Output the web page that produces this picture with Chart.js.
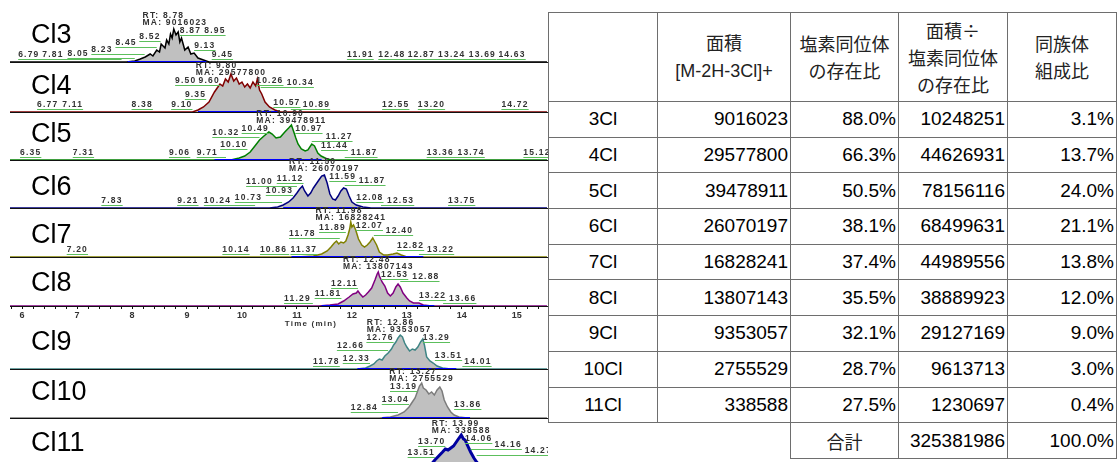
<!DOCTYPE html>
<html>
<head>
<meta charset="utf-8">
<script src="https://cdn.jsdelivr.net/npm/chart.js@4/dist/chart.umd.min.js"></script>
<style>
  html, body { margin: 0; padding: 0; background: #fff; overflow: hidden; }
  #wrap { position: relative; width: 1118px; height: 462px; overflow: hidden; }
  #wrap canvas { position: absolute; left: 0; }
  #tbl { position: absolute; left: 548px; top: 12px; z-index: 5; background: #fff;
         border-collapse: collapse; table-layout: fixed;
         font-family: "Liberation Sans", "Noto Sans CJK JP", Arial, sans-serif; font-size: 19px; color: #000; }
  #tbl td { border: 1px solid #6e6e6e; padding: 0 2px; white-space: nowrap; vertical-align: middle; text-align: right; }
  #tbl tr.head td { text-align: center; font-family: "Noto Sans CJK JP", "Liberation Sans", sans-serif;
                    font-size: 18px; line-height: 27px; color: #222; }
  #tbl tr.head td .en { font-family: "Liberation Sans", Arial, sans-serif; }
  #tbl td.name { text-align: center; }
  #tbl td.none { border: none; }
  #tbl td.sum { text-align: center; font-family: "Noto Sans CJK JP", sans-serif; font-size: 18px; color: #222; }
</style>
</head>
<body>
<div id="wrap"><table id="tbl"></table></div>
<script>
// ---- chromatogram data (time in min, signal in relative height units) ----
const TIME_MIN = 5.78, TIME_MAX = 15.55;
const majorTicks = [6, 7, 8, 9, 10, 11, 12, 13, 14, 15];
const axisTitle = 'Time (min)';

const panelNames = ['Cl3', 'Cl4', 'Cl5', 'Cl6', 'Cl7', 'Cl8', 'Cl9', 'Cl10', 'Cl11'];
const retentionTimes = [8.78, 9.80, 10.90, 11.50, 11.98, 12.48, 12.86, 13.27, 13.99];

const cl3Time   = [5.78, 7.90, 8.05, 8.15, 8.24, 8.33, 8.38, 8.45, 8.50, 8.53, 8.60, 8.63, 8.67, 8.70, 8.73, 8.76, 8.80, 8.84, 8.87, 8.90, 8.96, 9.02, 9.07, 9.13, 9.20, 9.30, 9.40, 15.55];
const cl3Signal = [0, 0, 1, 3, 5, 8, 6, 12, 10, 18, 14, 22, 18, 28, 24, 33, 27, 30, 20, 24, 12, 15, 8, 9, 4, 2, 0, 0];
const cl3Range  = [7.92, 9.35];
const cl3Peaks  = ['6.79', '7.81', '8.05', '8.23', '8.45', '8.52', '8.87', '8.95', '9.13', '9.45', '11.91', '12.48', '12.87', '13.24', '13.69', '14.63'];

const cl4Time   = [5.78, 9.10, 9.20, 9.30, 9.40, 9.50, 9.55, 9.60, 9.65, 9.70, 9.75, 9.80, 9.85, 9.90, 9.95, 10.00, 10.05, 10.10, 10.15, 10.20, 10.25, 10.28, 10.32, 10.36, 10.42, 10.50, 10.60, 10.70, 15.55];
const cl4Signal = [0, 0, 2, 5, 10, 20, 24, 28, 26, 33, 30, 38, 31, 34, 28, 30, 25, 28, 24, 30, 26, 33, 22, 18, 10, 5, 2, 0, 0];
const cl4Range  = [9.2, 10.65];
const cl4Peaks  = ['6.77', '7.11', '8.38', '9.10', '9.35', '9.50', '9.60', '10.26', '10.34', '10.57', '10.89', '12.55', '13.20', '14.72'];

const cl5Time   = [5.78, 9.80, 9.95, 10.05, 10.15, 10.25, 10.32, 10.40, 10.49, 10.55, 10.62, 10.70, 10.78, 10.85, 10.90, 10.95, 10.98, 11.02, 11.08, 11.15, 11.20, 11.27, 11.32, 11.38, 11.44, 11.55, 11.65, 15.55];
const cl5Signal = [0, 0, 2, 4, 8, 15, 20, 24, 28, 26, 22, 23, 28, 32, 35, 27, 22, 16, 11, 9, 10, 16, 14, 7, 4, 1, 0, 0];
const cl5Range  = [9.5, 11.45];
const cl5Peaks  = ['6.35', '7.31', '9.06', '9.71', '10.10', '10.32', '10.49', '10.97', '11.27', '11.44', '11.87', '13.36', '13.74', '15.12'];

const cl6Time   = [5.78, 10.50, 10.65, 10.75, 10.85, 10.93, 11.00, 11.05, 11.10, 11.14, 11.20, 11.25, 11.30, 11.35, 11.40, 11.45, 11.50, 11.55, 11.60, 11.65, 11.70, 11.75, 11.80, 11.85, 11.90, 11.95, 12.00, 12.08, 12.20, 12.35, 15.55];
const cl6Signal = [0, 0, 1, 3, 6, 10, 15, 19, 22, 17, 12, 15, 20, 24, 28, 32, 33, 25, 14, 9, 8, 12, 17, 20, 19, 12, 6, 3, 1, 0, 0];
const cl6Range  = [10.75, 12.1];
const cl6Peaks  = ['7.83', '9.21', '10.24', '10.73', '10.93', '11.00', '11.12', '11.59', '11.87', '12.08', '12.53', '13.75'];

const cl7Time   = [5.78, 11.00, 11.30, 11.45, 11.55, 11.62, 11.68, 11.72, 11.76, 11.80, 11.85, 11.89, 11.93, 11.96, 11.98, 12.00, 12.03, 12.07, 12.12, 12.18, 12.23, 12.28, 12.33, 12.38, 12.40, 12.45, 12.50, 12.58, 12.65, 12.75, 12.82, 12.90, 13.00, 15.55];
const cl7Signal = [0, 0, 1, 3, 6, 10, 14, 16, 13, 15, 14, 16, 22, 28, 35, 30, 32, 27, 18, 12, 10, 12, 15, 19, 17, 12, 5, 2, 2, 3, 4, 2, 0, 0];
const cl7Range  = [10.9, 13.3];
const cl7Peaks  = ['7.20', '10.14', '10.86', '11.37', '11.78', '11.89', '12.07', '12.40', '12.82', '13.22'];

const cl8Time   = [5.78, 11.40, 11.60, 11.75, 11.85, 11.95, 12.02, 12.08, 12.11, 12.15, 12.20, 12.25, 12.30, 12.36, 12.42, 12.46, 12.48, 12.50, 12.55, 12.60, 12.65, 12.70, 12.75, 12.80, 12.84, 12.88, 12.93, 13.00, 13.05, 13.12, 13.22, 13.30, 13.45, 15.55];
const cl8Signal = [0, 0, 1, 2, 5, 9, 12, 13, 15, 12, 9, 11, 14, 18, 26, 32, 34, 30, 24, 20, 13, 10, 13, 19, 22, 19, 13, 8, 5, 3, 3, 1, 0, 0];
const cl8Range  = [11.45, 13.5];
const cl8Peaks  = ['11.29', '11.81', '12.11', '12.53', '12.88', '13.22', '13.66'];

const cl9Time   = [5.78, 12.10, 12.25, 12.33, 12.40, 12.45, 12.50, 12.55, 12.60, 12.66, 12.72, 12.76, 12.80, 12.84, 12.88, 12.92, 12.96, 13.00, 13.05, 13.10, 13.15, 13.20, 13.25, 13.29, 13.32, 13.36, 13.42, 13.48, 13.55, 13.65, 13.80, 15.55];
const cl9Signal = [0, 0, 1, 3, 5, 8, 10, 9, 13, 16, 20, 24, 27, 31, 34, 32, 26, 22, 18, 20, 19, 22, 27, 30, 24, 12, 8, 6, 3, 1, 0, 0];
const cl9Range  = [12.1, 13.9];
const cl9Peaks  = ['11.78', '12.33', '12.66', '12.76', '13.29', '13.51', '14.01'];

const cl10Time   = [5.78, 12.50, 12.70, 12.84, 12.95, 13.04, 13.10, 13.15, 13.19, 13.23, 13.27, 13.30, 13.35, 13.40, 13.45, 13.50, 13.55, 13.60, 13.64, 13.68, 13.74, 13.80, 13.86, 13.95, 14.10, 15.55];
const cl10Signal = [0, 0, 1, 3, 6, 11, 16, 20, 26, 32, 35, 30, 28, 24, 26, 23, 28, 31, 27, 18, 11, 6, 3, 1, 0, 0];
const cl10Range  = [12.55, 14.15];
const cl10Peaks  = ['12.84', '13.04', '13.19', '13.86'];

const cl11Time   = [5.78, 13.30, 13.45, 13.51, 13.58, 13.65, 13.70, 13.75, 13.80, 13.85, 13.90, 13.95, 13.99, 14.03, 14.06, 14.10, 14.16, 14.22, 14.27, 14.35, 14.45, 15.55];
const cl11Signal = [0, 0, 6, 10, 14, 18, 21, 20, 22, 24, 28, 32, 35, 31, 30, 25, 18, 12, 8, 3, 0, 0];
const cl11Range  = [13.3, 14.5];
const cl11Peaks  = ['13.51', '13.70', '14.06', '14.16', '14.27'];

// ---- table data ----
const congeners     = ['3Cl', '4Cl', '5Cl', '6Cl', '7Cl', '8Cl', '9Cl', '10Cl', '11Cl'];
const areas         = [9016023, 29577800, 39478911, 26070197, 16828241, 13807143, 9353057, 2755529, 338588];
const isotopeRatio  = [88.0, 66.3, 50.5, 38.1, 37.4, 35.5, 32.1, 28.7, 27.5];
const correctedArea = [10248251, 44626931, 78156116, 68499631, 44989556, 38889923, 29127169, 9613713, 1230697];
const composition   = [3.1, 13.7, 24.0, 21.1, 13.8, 12.0, 9.0, 3.0, 0.4];
const totalLabel = '合計';
const totalCorrected = 325381986;
const totalComposition = 100.0;
const headerLines = [[], ['面積', '[M-2H-3Cl]+'], ['塩素同位体', 'の存在比'], ['面積÷', '塩素同位体', 'の存在比'], ['同族体', '組成比']];

// ---- layout / style (kept apart from the data) ----
const baselines   = [62, 112, 160, 208, 257, 306, 369, 418, 470];
const nameOffsets = [26, 25, 25, 20, 21, 22, 26, 25, 26];
const traceColors = ['#000000', '#800000', '#008000', '#00007f', '#808000', '#800080', '#3f8585', '#7c7c7c', '#0000a0'];
const traceWidths = [1.5, 1.5, 1.5, 1.5, 1.5, 1.5, 1.5, 1.5, 3];
const AXIS_PANEL = 5; // Cl8 carries the time axis
const AXIS_TITLE_X = 311;
const LABEL_CEIL = 27; // peak labels stay below the RT / MA block
const colWidths = [109, 133, 108, 109, 109];
const FONT = '"Liberation Sans", Arial, sans-serif';
const PLOT_H = 56, AXIS_H = 24;

const series = [
  [cl3Time, cl3Signal, cl3Range, cl3Peaks],
  [cl4Time, cl4Signal, cl4Range, cl4Peaks],
  [cl5Time, cl5Signal, cl5Range, cl5Peaks],
  [cl6Time, cl6Signal, cl6Range, cl6Peaks],
  [cl7Time, cl7Signal, cl7Range, cl7Peaks],
  [cl8Time, cl8Signal, cl8Range, cl8Peaks],
  [cl9Time, cl9Signal, cl9Range, cl9Peaks],
  [cl10Time, cl10Signal, cl10Range, cl10Peaks],
  [cl11Time, cl11Signal, cl11Range, cl11Peaks],
];

// local top of the trace near t, only used to place the small peak labels
function heightNear(time, signal, t) {
  let h = 0;
  time.forEach((tt, k) => { if (Math.abs(tt - t) <= 0.06) h = Math.max(h, signal[k]); });
  return h;
}

const overlaps = (a, b) => a.l < b.r + 2 && b.l < a.r + 2 && a.t < b.b + 1 && b.t < a.b + 1;

const peakText = {
  id: 'peakText',
  afterDatasetsDraw(chart, args, o) {
    const { ctx, chartArea: ca, scales: { x, y } } = chart;
    const i = o.index;
    const [time, signal, , peaks] = series[i];
    const rt = retentionTimes[i];
    ctx.save();
    // panel name
    ctx.font = '27px ' + FONT;
    ctx.fillStyle = '#000';
    ctx.textAlign = 'left';
    ctx.textBaseline = 'middle';
    ctx.fillText(panelNames[i], 31, ca.bottom - nameOffsets[i]);

    ctx.font = 'bold 8.5px ' + FONT;
    ctx.letterSpacing = '1.2px';
    ctx.fillStyle = '#333';
    // RT / MA block above the apex
    const ma = 'MA: ' + areas[i];
    const mw = ctx.measureText(ma).width;
    const bx = x.getPixelForValue(rt) - mw / 2;
    ctx.fillText('RT: ' + rt.toFixed(2), bx, ca.bottom - 46);
    ctx.fillText(ma, bx, ca.bottom - 39);

    if (i === AXIS_PANEL) {
      ctx.textAlign = 'center';
      ctx.font = 'bold 8px ' + FONT;
      ctx.fillText(axisTitle, AXIS_TITLE_X, ca.bottom + 18);
      ctx.textAlign = 'left';
      ctx.font = 'bold 8.5px ' + FONT;
    }

    // peak labels with green leader lines
    ctx.textBaseline = 'bottom';
    const left = peaks.filter(s => parseFloat(s) < rt).sort((a, b) => parseFloat(b) - parseFloat(a));
    const right = peaks.filter(s => parseFloat(s) >= rt).sort((a, b) => parseFloat(a) - parseFloat(b));
    const boxes = [];
    const place = (s, dir) => {
      const t = parseFloat(s);
      const w = ctx.measureText(s).width;
      const px = x.getPixelForValue(t);
      const yb = Math.max(ca.bottom - LABEL_CEIL,
        Math.min(y.getPixelForValue(heightNear(time, signal, t)) - 3, ca.bottom - 2));
      let box = dir < 0 ? { l: px - w, r: px, t: yb - 8, b: yb } : { l: px, r: px + w, t: yb - 8, b: yb };
      let n = 0;
      while (boxes.some(bb => overlaps(bb, box)) && n++ < 60) {
        box = { l: box.l + 2 * dir, r: box.r + 2 * dir, t: box.t, b: box.b };
      }
      boxes.push(box);
      ctx.fillStyle = '#333';
      ctx.fillText(s, box.l, box.b);
      ctx.strokeStyle = '#5cbf5c';
      ctx.lineWidth = 1;
      ctx.beginPath();
      ctx.moveTo(Math.min(box.l, px), box.b + 0.5);
      ctx.lineTo(Math.max(box.r, px), box.b + 0.5);
      ctx.stroke();
    };
    left.forEach(s => place(s, -1));
    right.forEach(s => place(s, 1));
    ctx.letterSpacing = '0px';
    ctx.restore();
  }
};

const wrap = document.getElementById('wrap');
series.forEach(([time, signal, range], i) => {
  const isAxis = i === AXIS_PANEL;
  const cv = document.createElement('canvas');
  const h = PLOT_H + (isAxis ? AXIS_H : 2);
  cv.width = 548; cv.height = h;
  cv.style.top = (baselines[i] - PLOT_H) + 'px';
  cv.style.width = '548px'; cv.style.height = h + 'px';
  wrap.appendChild(cv);

  new Chart(cv, {
    type: 'line',
    data: {
      datasets: [
        { data: range.map(t => ({ x: t, y: 0 })), borderColor: '#0000ff', borderWidth: 2, fill: false, pointRadius: 0 },
        { data: time.map((t, k) => ({ x: t, y: signal[k] })), borderColor: traceColors[i], borderWidth: traceWidths[i],
          backgroundColor: '#c0c0c0', fill: 'origin', pointRadius: 0, tension: 0 },
      ],
    },
    options: {
      responsive: false,
      devicePixelRatio: 1,
      animation: false,
      layout: { padding: { left: 10, right: 1, top: 6, bottom: isAxis ? 0 : 2 } },
      plugins: { legend: { display: false }, tooltip: { enabled: false }, peakText: { index: i } },
      scales: {
        x: {
          type: 'linear', min: TIME_MIN, max: TIME_MAX,
          afterFit: s => { s.height = isAxis ? AXIS_H : 0; },
          border: { display: true, color: '#111', width: 1 },
          grid: { display: isAxis, drawOnChartArea: false, drawTicks: isAxis, tickLength: 3, color: '#111' },
          ticks: {
            display: isAxis, stepSize: 0.2, includeBounds: false, autoSkip: false, maxRotation: 0, padding: 1,
            color: '#333', font: { family: FONT, size: 9, weight: 'bold' },
            callback: v => (majorTicks.some(m => Math.abs(m - v) < 1e-6) ? String(Math.round(v)) : ''),
          },
        },
        y: { display: false, min: 0, max: 50 },
      },
    },
    plugins: [peakText],
  });
});

// ---- table ----
const tbl = document.getElementById('tbl');
const fmtPct = v => v.toFixed(1) + '%';
let html = '<colgroup>' + colWidths.map(w => `<col style="width:${w}px">`).join('') + '</colgroup>';
html += '<tr class="head" style="height:89px">' + headerLines.map(lines =>
  `<td>${lines.map(l => /^[\x00-\x7f]+$/.test(l) ? `<span class="en">${l}</span>` : l).join('<br>')}</td>`).join('') + '</tr>';
congeners.forEach((c, k) => {
  html += `<tr style="height:35.7px"><td class="name">${c}</td><td>${areas[k]}</td><td>${fmtPct(isotopeRatio[k])}</td>` +
          `<td>${correctedArea[k]}</td><td>${fmtPct(composition[k])}</td></tr>`;
});
html += `<tr style="height:36px"><td class="none"></td><td class="none"></td><td class="sum">${totalLabel}</td>` +
        `<td>${totalCorrected}</td><td>${fmtPct(totalComposition)}</td></tr>`;
tbl.innerHTML = html;
</script>
</body>
</html>
